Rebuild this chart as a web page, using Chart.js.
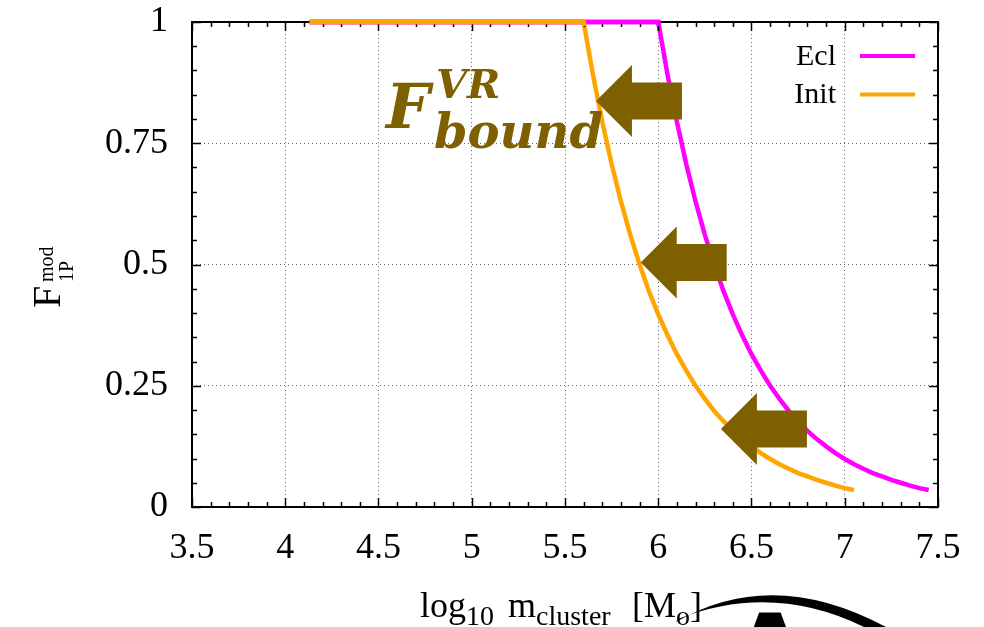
<!DOCTYPE html>
<html>
<head>
<meta charset="utf-8">
<script src="https://cdn.jsdelivr.net/npm/chart.js@4.4.1/dist/chart.umd.min.js"></script>
<style>
  html, body { margin: 0; background: #fff; }
  canvas { display: block; }
</style>
</head>
<body>
<canvas id="chart" width="984" height="627"></canvas>
<script>
// axis ticks
const xTicks = [3.5, 4, 4.5, 5, 5.5, 6, 6.5, 7, 7.5];
const yTicks = [0, 0.25, 0.5, 0.75, 1];

// series
const seriesNames = ['Ecl', 'Init'];
const eclX = [4.13, 6.00, 6.05, 6.10, 6.15, 6.20, 6.25, 6.30, 6.35, 6.40, 6.45, 6.50, 6.55, 6.60, 6.65,
  6.70, 6.75, 6.80, 6.85, 6.90, 6.95, 7.00, 7.05, 7.10, 7.15, 7.20, 7.25, 7.30, 7.35, 7.40, 7.45];
const eclY = [1, 1, 0.891, 0.794, 0.707, 0.630, 0.561, 0.500, 0.445, 0.397, 0.354, 0.315, 0.281, 0.250, 0.223,
  0.198, 0.177, 0.157, 0.140, 0.125, 0.111, 0.099, 0.088, 0.079, 0.070, 0.063, 0.056, 0.050, 0.044, 0.039, 0.035];
const initX = [4.13, 5.60, 5.65, 5.70, 5.75, 5.80, 5.85, 5.90, 5.95, 6.00, 6.05, 6.10, 6.15, 6.20, 6.25,
  6.30, 6.35, 6.40, 6.45, 6.50, 6.55, 6.60, 6.65, 6.70, 6.75, 6.80, 6.85, 6.90, 6.95, 7.00, 7.05];
const initY = [1, 1, 0.891, 0.794, 0.707, 0.630, 0.561, 0.500, 0.445, 0.397, 0.354, 0.315, 0.281, 0.250, 0.223,
  0.198, 0.177, 0.157, 0.140, 0.125, 0.111, 0.099, 0.088, 0.079, 0.070, 0.063, 0.056, 0.050, 0.044, 0.039, 0.035];

// arrow tips (data coords) for the annotation
const arrowTips = [[5.666, 0.837], [5.906, 0.504], [6.336, 0.161]];

const BROWN = '#7f6000';
const SERIF = '"Liberation Serif", "Times New Roman", serif';

function toPoints(xs, ys) {
  return xs.map((x, i) => ({ x: x, y: ys[i] }));
}

function drawRuns(ctx, x, y, runs) {
  for (const r of runs) {
    if (r.x !== undefined) x = r.x;
    ctx.font = r.size + 'px ' + SERIF;
    ctx.fillText(r.t, x, y + (r.dy || 0));
    x += ctx.measureText(r.t).width;
  }
}

function drawArrow(ctx, tx, ty) {
  ctx.beginPath();
  ctx.moveTo(tx, ty);
  ctx.lineTo(tx + 36, ty - 36);
  ctx.lineTo(tx + 36, ty - 18.5);
  ctx.lineTo(tx + 86, ty - 18.5);
  ctx.lineTo(tx + 86, ty + 18.5);
  ctx.lineTo(tx + 36, ty + 18.5);
  ctx.lineTo(tx + 36, ty + 36);
  ctx.closePath();
  ctx.fill();
}

const decor = {
  id: 'decor',
  afterDraw(chart) {
    const ctx = chart.ctx;
    const a = chart.chartArea;
    const xs = chart.scales.x, ys = chart.scales.y;
    ctx.save();

    // inward ticks, all four sides
    ctx.strokeStyle = '#000';
    ctx.lineWidth = 1.5;
    ctx.beginPath();
    for (let v = 3.5; v <= 7.5001; v += 0.1) {
      const px = Math.round(xs.getPixelForValue(v)) + 0.5;
      const major = Math.abs(v * 2 - Math.round(v * 2)) < 1e-6;
      const len = major ? 9 : 5;
      ctx.moveTo(px, a.bottom); ctx.lineTo(px, a.bottom - len);
      ctx.moveTo(px, a.top); ctx.lineTo(px, a.top + len);
    }
    for (let v = 0; v <= 1.0001; v += 0.05) {
      const py = Math.round(ys.getPixelForValue(v)) + 0.5;
      const major = Math.abs(v * 4 - Math.round(v * 4)) < 1e-6;
      const len = major ? 9 : 5;
      ctx.moveTo(a.left, py); ctx.lineTo(a.left + len, py);
      ctx.moveTo(a.right, py); ctx.lineTo(a.right - len, py);
    }
    ctx.stroke();

    // frame
    ctx.lineWidth = 2;
    ctx.strokeRect(a.left, a.top, a.right - a.left, a.bottom - a.top);

    // redraw the flat top parts of the curves over the frame
    chart.getSortedVisibleDatasetMetas().slice().reverse().forEach(m => {
      ctx.save();
      ctx.beginPath();
      ctx.rect(a.left, a.top - 4, a.right - a.left, 8);
      ctx.clip();
      m.dataset.draw(ctx);
      ctx.restore();
    });

    // legend
    ctx.font = '30px ' + SERIF;
    ctx.textAlign = 'right';
    ctx.textBaseline = 'middle';
    chart.data.datasets.forEach((ds, i) => {
      const y = 56 + i * 38.5;
      ctx.fillStyle = '#000';
      ctx.fillText(ds.label, 836, y + 1);
      ctx.strokeStyle = ds.borderColor;
      ctx.lineWidth = 4;
      ctx.beginPath();
      ctx.moveTo(860, y); ctx.lineTo(915, y);
      ctx.stroke();
    });

    // arrows
    ctx.fillStyle = BROWN;
    arrowTips.forEach(t => drawArrow(ctx, xs.getPixelForValue(t[0]), ys.getPixelForValue(t[1])));

    // F^VR_bound label
    ctx.textAlign = 'left';
    ctx.textBaseline = 'alphabetic';
    ctx.fillStyle = BROWN;
    ctx.font = 'italic bold 62px "DejaVu Serif", serif';
    ctx.fillText('F', 386, 128);
    ctx.font = 'italic bold 40px "DejaVu Serif", serif';
    ctx.fillText('VR', 436, 98);
    ctx.font = 'italic bold 48px "DejaVu Serif", serif';
    ctx.fillText('bound', 434, 148);

    // axis titles
    ctx.fillStyle = '#000';
    drawRuns(ctx, 0, 617, [
      { t: 'log', size: 36, x: 420 },
      { t: '10', size: 28, dy: 8 },
      { t: 'm', size: 36, x: 508 },
      { t: 'cluster', size: 28, dy: 8 },
      { t: '[M', size: 36, x: 632 },
      { t: 'o', size: 28, dy: 8 },
      { t: ']', size: 36 }
    ]);

    ctx.save();
    ctx.translate(0, 308);
    ctx.rotate(-Math.PI / 2);
    ctx.font = '40px ' + SERIF;
    ctx.fillText('F', 0, 60);
    ctx.font = '20px ' + SERIF;
    ctx.fillText('mod', 26, 53);
    ctx.fillText('1P', 26, 73);
    ctx.restore();

    // stray pen stroke and letter cut off at the bottom edge
    ctx.fillStyle = '#000';
    ctx.beginPath();
    ctx.moveTo(676, 622);
    ctx.quadraticCurveTo(772, 566, 886, 627);
    ctx.lineTo(864, 627);
    ctx.quadraticCurveTo(772, 582, 678, 619);
    ctx.closePath();
    ctx.fill();
    ctx.font = 'bold 96px "DejaVu Sans", sans-serif';
    ctx.textAlign = 'center';
    ctx.fillText('A', 770, 613 + 0.73 * 96);

    ctx.restore();
  }
};

new Chart(document.getElementById('chart'), {
  type: 'scatter',
  data: {
    datasets: [
      {
        label: seriesNames[0],
        data: toPoints(eclX, eclY),
        borderColor: '#ff00ff',
        borderWidth: 4.5,
        showLine: true,
        pointRadius: 0,
        clip: 6,
        order: 1
      },
      {
        label: seriesNames[1],
        data: toPoints(initX, initY),
        borderColor: '#ffa500',
        borderWidth: 4.5,
        showLine: true,
        pointRadius: 0,
        clip: 6,
        order: 0
      }
    ]
  },
  options: {
    responsive: false,
    animation: false,
    layout: { padding: { top: 22, right: 46, left: 0, bottom: 0 } },
    plugins: {
      legend: { display: false },
      tooltip: { enabled: false }
    },
    scales: {
      x: {
        type: 'linear',
        min: 3.5,
        max: 7.5,
        afterBuildTicks: s => { s.ticks = xTicks.map(v => ({ value: v })); },
        afterFit: s => { s.height = 120; s.paddingLeft = 0; s.paddingRight = 0; },
        ticks: { font: { family: SERIF, size: 36 }, color: '#000', padding: 20, maxRotation: 0, autoSkip: false,
          callback: v => String(v) },
        grid: { color: '#666', lineWidth: 1, drawTicks: false },
        border: { display: false, dash: [1, 3] }
      },
      y: {
        min: 0,
        max: 1,
        afterBuildTicks: s => { s.ticks = yTicks.map(v => ({ value: v })); },
        afterFit: s => { s.width = 192; s.paddingTop = 0; s.paddingBottom = 0; },
        ticks: { font: { family: SERIF, size: 36 }, color: '#000', padding: 24, autoSkip: false,
          callback: v => String(v) },
        grid: { color: '#666', lineWidth: 1, drawTicks: false },
        border: { display: false, dash: [1, 3] }
      }
    }
  },
  plugins: [decor]
});
</script>
</body>
</html>
